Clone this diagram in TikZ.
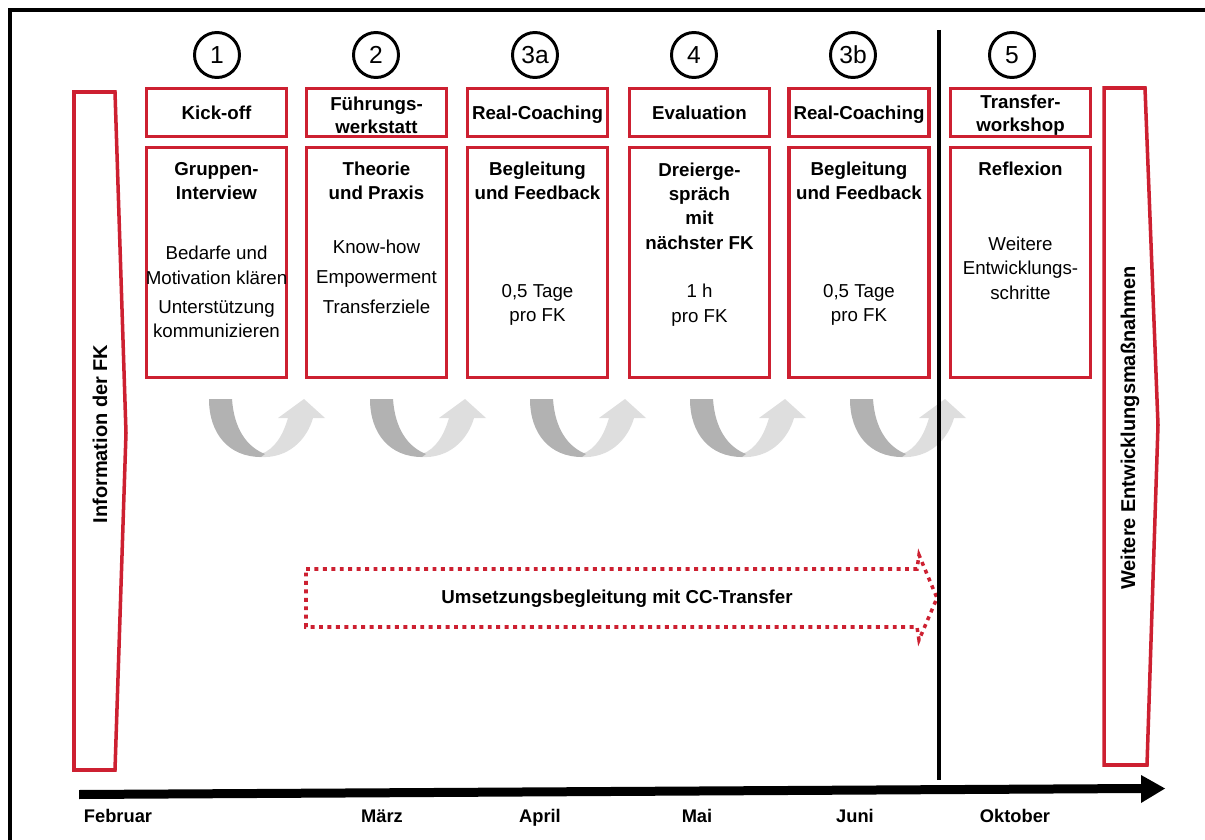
\documentclass[tikz,border=0pt]{standalone}
\usepackage{fontspec}
\setmainfont{Liberation Sans}
\definecolor{fkred}{RGB}{205,32,49}
\definecolor{darkgrey}{RGB}{178,178,178}
\definecolor{lightgrey}{RGB}{222,222,222}
\tikzset{every node/.style={inner sep=0pt,align=center,font=\fontsize{13.3}{17.5}\selectfont}}
\tikzset{title/.style={draw=fkred,line width=2.3pt,minimum width=3.5cm,minimum height=1.2cm,font=\bfseries\fontsize{13.3}{16.3}\selectfont}}
\tikzset{titleone/.style={title,text depth=0pt}}
\tikzset{titletext/.style={font=\bfseries\fontsize{13.3}{16.3}\selectfont}}
\tikzset{content/.style={draw=fkred,line width=2.3pt,minimum width=3.5cm,minimum height=5.75cm}}
\tikzset{num/.style={circle,draw,line width=2.1pt,minimum size=1.125cm,font=\fontsize{17.5}{18}\selectfont}}
\tikzset{head/.style={font=\bfseries\fontsize{13.3}{17.3}\selectfont}}
\tikzset{month/.style={anchor=base,font=\bfseries\fontsize{13}{15}\selectfont}}
\tikzset{side/.style={rotate=90,font=\bfseries\fontsize{14.2}{17}\selectfont}}

\begin{document}
\begin{tikzpicture}[x=0.025cm,y=-0.025cm]
      \useasboundingbox (0,0) rectangle (1205,840);
      \draw[line width=2.6pt] (10,10) rectangle (1230,860);
      % Nummern
      \node[num] (n1) at (217,55) {1};
      \node[num] (n2) at (376,55) {2};
      \node[num] (n3a) at (535,55) {3a};
      \node[num] (n4) at (694,55) {4};
      \node[num] (n3b) at (853,55) {3b};
      \node[num] (n5) at (1012,55) {5};
      % Titel
      \node[titleone] (t1) at (216.5,112.5) {Kick-off};
      \node[title] (t2) at (376.5,112.5) {};
      \node[titletext] (t2txt) at ([yshift=-2.2pt]t2.center) {Führungs-\\werkstatt};
      \node[titleone] (t3a) at (537.5,112.5) {Real-Coaching};
      \node[titleone] (t4) at (699.5,112.5) {Evaluation};
      \node[titleone] (t3b) at (859,112.5) {Real-Coaching};
      \node[title] (t5) at (1020.5,112.5) {};
      \node[titletext] (t5txt) at ([yshift=-2.2pt]t5.center) {Transfer-\\workshop};
      % Inhalte
      \node[content] (c1) at (216.5,262.5) {};
      \node[content] (c2) at (376.5,262.5) {};
      \node[content] (c3a) at (537.5,262.5) {};
      \node[content] (c4) at (699.5,262.5) {};
      \node[content] (c3b) at (859,262.5) {};
      \node[content] (c5) at (1020.5,262.5) {};
      \node[head] (h1) at (216.5,181) {Gruppen-\\Interview};
      \node[head] (h2) at (376.5,181) {Theorie\\und Praxis};
      \node[head] (h3a) at (537.5,181) {Begleitung\\und Feedback};
      \node[head] (h4) at (699.5,206) {Dreierge-\\spräch\\mit\\nächster FK};
      \node[head] (h3b) at (859,181) {Begleitung\\und Feedback};
      \node[head] (h5) at (1020.5,169) {Reflexion};
      \node (b1) at (216.5,292) {Bedarfe und\\Motivation klären\\[3pt]Unterstützung\\kommunizieren};
      \node (b2) at (376.5,277) {Know-how\\[4pt]Empowerment\\[4pt]Transferziele};
      \node (b3a) at (537.5,305) {0,5 Tage\\pro FK};
      \node (b4) at (699.5,305) {1 h\\pro FK};
      \node (b3b) at (859,305) {0,5 Tage\\pro FK};
      \node (b5) at (1020.5,268) {Weitere\\Entwicklungs-\\schritte};
      % Pfeile zwischen den Schritten
      \foreach \ox in {209,370,530,690,850} {
        \begin{scope}[shift={(\ox,399)}]
          \fill[lightgrey] (50,58) .. controls (80,60) and (98,40) .. (104,19) -- (116,19) -- (95,0) -- (69,19) -- (79,19) .. controls (74,36) and (66,50) .. (52,55) -- cycle;
          \fill[darkgrey] (0,0) -- (23,0) .. controls (25,30) and (38,48) .. (56,55) -- (52,58) .. controls (20,58) and (0,35) .. (0,0) -- cycle;
        \end{scope}
      }
      % Seitenpfeile
      \draw[fkred,line width=2.5pt] (74,92) -- (115,92) -- (126,433) -- (115,770) -- (74,770) -- cycle;
      \node[side] (info) at (100,434) {Information der FK};
      \draw[fkred,line width=2.5pt] (1104,88) -- (1145,88) -- (1158,425) -- (1147,765) -- (1104,765) -- cycle;
      \node[side] (weitere) at (1130,428) {Weitere Entwicklungsmaßnahmen};
      % Umsetzungsbegleitung
      \draw[fkred,line width=2.5pt,dash pattern=on 2.8pt off 3.2pt] (306,569) -- (917,569) -- (919,555) -- (937,598) -- (919,640) -- (917,627) -- (306,627) -- cycle;
      \node[head] (umsetzung) at (617,599) {Umsetzungsbegleitung mit CC-Transfer};
      % Zeitachse
      \draw[line width=2.7pt] (939,30) -- (939,780);
      \fill (79,790) -- (1141,784) -- (1141,775) -- (1165,788.5) -- (1141,803) -- (1141,793) -- (79,799) -- cycle;
      \node[month] (feb) at (118,822) {Februar};
      \node[month] (mar) at (382,822) {März};
      \node[month] (apr) at (540,822) {April};
      \node[month] (mai) at (697,822) {Mai};
      \node[month] (jun) at (855,822) {Juni};
      \node[month] (okt) at (1015,822) {Oktober};
\end{tikzpicture}
\end{document}
